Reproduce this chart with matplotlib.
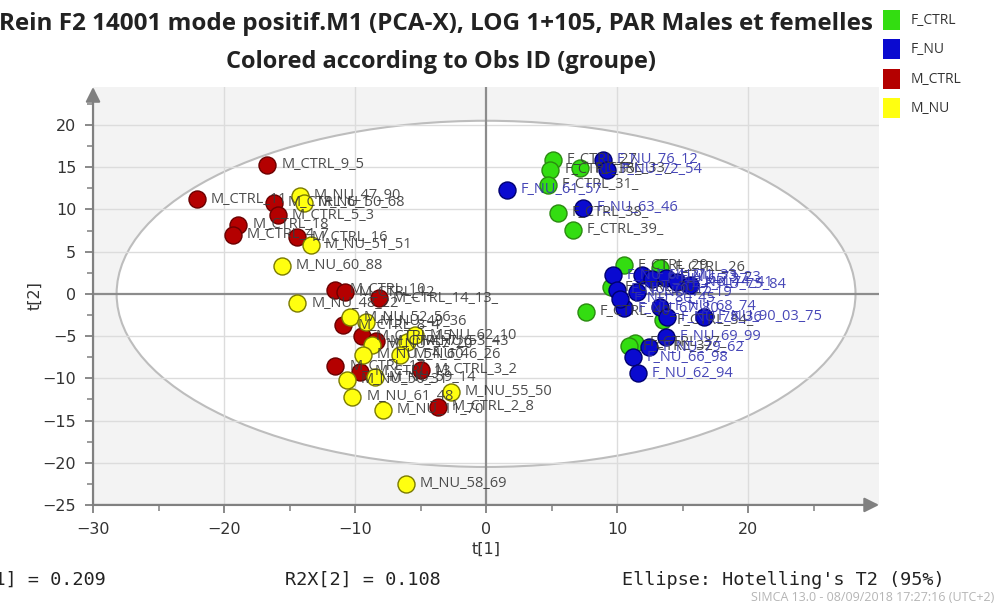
import matplotlib
matplotlib.use("Agg")
import matplotlib.pyplot as plt
from matplotlib.patches import Ellipse, Rectangle

# ---- score values t[1], t[2] per group ----
f_ctrl_x = [5.1, 4.9, 4.7, 7.2, 5.5, 6.6, 10.5, 13.3, 9.5, 7.6, 13.5, 11.4, 10.9]
f_ctrl_y = [15.9, 14.7, 12.9, 14.9, 9.6, 7.6, 3.4, 3.1, 0.8, -2.1, -3.1, -5.8, -6.2]
f_ctrl_lab = ["F_CTRL_27_", "F_CTRL_35_", "F_CTRL_31_", "F_CTRL_33_", "F_CTRL_38_",
              "F_CTRL_39_", "F_CTRL_29_", "F_CTRL_26_", "F_CTRL_30_", "F_CTRL_40_",
              "F_CTRL_34_", "F_CTRL_37_", "F_CTRL_32_"]

f_nu_x = [1.6, 8.9, 9.2, 7.4, 9.7, 10.0, 10.5, 11.9, 12.7, 13.7, 14.6, 15.6, 11.5,
          13.3, 13.8, 16.6, 13.7, 12.4, 11.2, 11.6, 10.2]
f_nu_y = [12.3, 15.9, 14.7, 10.2, 2.2, 0.5, -1.7, 2.2, 1.7, 1.9, 1.4, 1.1, 0.2,
          -1.5, -2.8, -2.7, -5.1, -6.3, -7.5, -9.4, -0.6]
f_nu_lab = ["F_NU_61_57", "F_NU_76_12", "F_NU_72_54", "F_NU_63_46", "F_NU_64_21",
            "F_NU_70_15", "F_NU_67_80", "F_NU_71_33", "F_NU_65_27", "F_NU_73_23",
            "F_NU_74_41", "F_NU_75_84", "F_NU_77_19", "F_NU_68_74", "F_NU_78_36",
            "F_NU_90_03_75", "F_NU_69_99", "F_NU_79_62", "F_NU_66_98", "F_NU_62_94",
            "F_NU_80_45"]

m_ctrl_x = [-16.7, -22.1, -18.9, -19.3, -16.2, -15.9, -14.4, -11.5, -10.8, -8.2,
            -10.9, -9.5, -8.4, -11.5, -9.6, -5.0, -3.7]
m_ctrl_y = [15.3, 11.2, 8.2, 7.0, 10.8, 9.3, 6.7, 0.5, 0.2, -0.5,
            -3.7, -5.0, -5.6, -8.6, -9.2, -9.0, -13.4]
m_ctrl_lab = ["M_CTRL_9_5", "M_CTRL_11", "M_CTRL_18", "M_CTRL_4_7", "M_CTRL_6_1",
              "M_CTRL_5_3", "M_CTRL_16", "M_CTRL_10", "M_CTRL_12", "M_CTRL_14_13_",
              "M_CTRL_8_4", "M_CTRL_15", "M_CTRL_7_6", "M_CTRL_17", "M_CTRL_13",
              "M_CTRL_3_2", "M_CTRL_2_8"]

m_nu_x = [-14.2, -13.9, -13.4, -15.6, -14.4, -10.4, -9.2, -8.7, -9.4, -8.5, -10.6,
          -10.2, -7.9, -2.7, -6.0, -6.6, -5.4, -6.1]
m_nu_y = [11.6, 10.8, 5.8, 3.3, -1.1, -2.8, -3.3, -6.0, -7.2, -9.9, -10.2,
          -12.2, -13.7, -11.6, -5.7, -7.2, -4.9, -22.5]
m_nu_lab = ["M_NU_47_90", "M_NU_50_68", "M_NU_51_51", "M_NU_60_88", "M_NU_48_22",
            "M_NU_52_56", "M_NU_49_36", "M_NU_57_20", "M_NU_54_60", "M_NU_59_14",
            "M_NU_56_31", "M_NU_61_48", "M_NU_11_70", "M_NU_55_50", "M_NU_53_43",
            "M_NU_46_26", "M_NU_62_10", "M_NU_58_69"]

groups = [
    ("F_CTRL", f_ctrl_x, f_ctrl_y, f_ctrl_lab, "#33dd11", "#2a8a10", "#3a3a3a"),
    ("F_NU", f_nu_x, f_nu_y, f_nu_lab, "#0a0ad0", "#000070", "#3434b0"),
    ("M_CTRL", m_ctrl_x, m_ctrl_y, m_ctrl_lab, "#b40000", "#6a0000", "#3a3a3a"),
    ("M_NU", m_nu_x, m_nu_y, m_nu_lab, "#ffff10", "#7a7a00", "#3a3a3a"),
]

x_ticks = [-30, -20, -10, 0, 10, 20]
y_ticks = [-25, -20, -15, -10, -5, 0, 5, 10, 15, 20]

fig = plt.figure(figsize=(9.95, 6.04), dpi=100)
ax = fig.add_axes([0.0935, 0.164, 0.79, 0.692])
ax.set_facecolor("#f3f3f3")
ax.set_xlim(-30, 30)
ax.set_ylim(-25, 24.5)
ax.set_axisbelow(True)

# Hotelling's T2 ellipse
ax.add_patch(Ellipse((0, 0), 2 * 28.2, 2 * 20.5, facecolor="white",
                     edgecolor="#bdbdbd", lw=1.5, zorder=0.3))

ax.set_xticks(x_ticks)
ax.set_yticks(y_ticks)
ax.set_xticks([-25, -15, -5, 5, 15, 25], minor=True)
ax.set_yticks([v + 2.5 for v in y_ticks], minor=True)
for v in [-20, -10, 10, 20]:
    ax.axvline(v, color="#dcdcdc", lw=1.0, zorder=0.4)
for v in [-20, -15, -10, -5, 5, 10, 15, 20]:
    ax.axhline(v, color="#dcdcdc", lw=1.0, zorder=0.4)
ax.axhline(0, color="#8c8c8c", lw=1.6, zorder=0.6)
ax.axvline(0, color="#8c8c8c", lw=1.6, zorder=0.6)

for s in ax.spines.values():
    s.set_visible(False)
ax.tick_params(which="major", direction="out", length=6, width=1.3,
               color="#808080", labelsize=11.5, labelcolor="#333333", pad=6)
ax.tick_params(which="minor", direction="out", length=4, width=1.1, color="#808080")

# axis arrows
arrow = dict(arrowstyle="-|>", color="#808080", lw=1.6, mutation_scale=22,
             shrinkA=0, shrinkB=0)
ax.annotate("", xy=(0, 1.0), xytext=(0, 0), xycoords="axes fraction",
            arrowprops=arrow, annotation_clip=False)
ax.annotate("", xy=(1.0, 0), xytext=(0, 0), xycoords="axes fraction",
            arrowprops=arrow, annotation_clip=False)

for name, xs, ys, labs, fc, ec, tc in groups:
    ax.scatter(xs, ys, s=150, c=fc, edgecolors=ec, linewidths=1.0, zorder=3)
for name, xs, ys, labs, fc, ec, tc in groups:
    for x, y, t in zip(xs, ys, labs):
        ax.annotate(t, (x, y), xytext=(10, 0), textcoords="offset points",
                    va="center", ha="left", fontsize=10.5, color=tc,
                    family="Open Sans", zorder=4, alpha=0.9)

ax.set_xlabel("t[1]", fontsize=11.5, color="#333333", labelpad=4)
ax.set_ylabel("t[2]", fontsize=11.5, color="#333333", labelpad=0)

fig.text(0.438, 0.960, "Rein F2 14001 mode positif.M1 (PCA-X), LOG 1+105, PAR Males et femelles",
         ha="center", va="center", fontsize=17.5, fontweight="bold",
         family="Open Sans", color="#222222")
fig.text(0.443, 0.898, "Colored according to Obs ID (groupe)", ha="center", va="center",
         fontsize=17, fontweight="bold", family="Open Sans", color="#222222")

# group legend
leg_y = [0.966, 0.918, 0.869, 0.820]
for (name, xs, ys, labs, fc, ec, tc), yy in zip(groups, leg_y):
    fig.patches.append(Rectangle((0.887, yy - 0.016), 0.018, 0.033,
                                 transform=fig.transFigure, facecolor=fc,
                                 edgecolor="none"))
    fig.text(0.915, yy, name, ha="left", va="center", fontsize=10,
             family="Open Sans", color="#333333")

mono = dict(family="DejaVu Sans Mono", fontsize=13.3, color="#222222", va="center")
fig.text(0.106, 0.040, "R2X[1] = 0.209", ha="right", **mono)
fig.text(0.286, 0.040, "R2X[2] = 0.108", ha="left", **mono)
fig.text(0.625, 0.040, "Ellipse: Hotelling's T2 (95%)", ha="left", **mono)
fig.text(0.999, 0.011, "SIMCA 13.0 - 08/09/2018 17:27:16 (UTC+2)", ha="right",
         va="center", fontsize=9, color="#b5b5b5", family="Open Sans")

fig.savefig("out.png", dpi=100)
